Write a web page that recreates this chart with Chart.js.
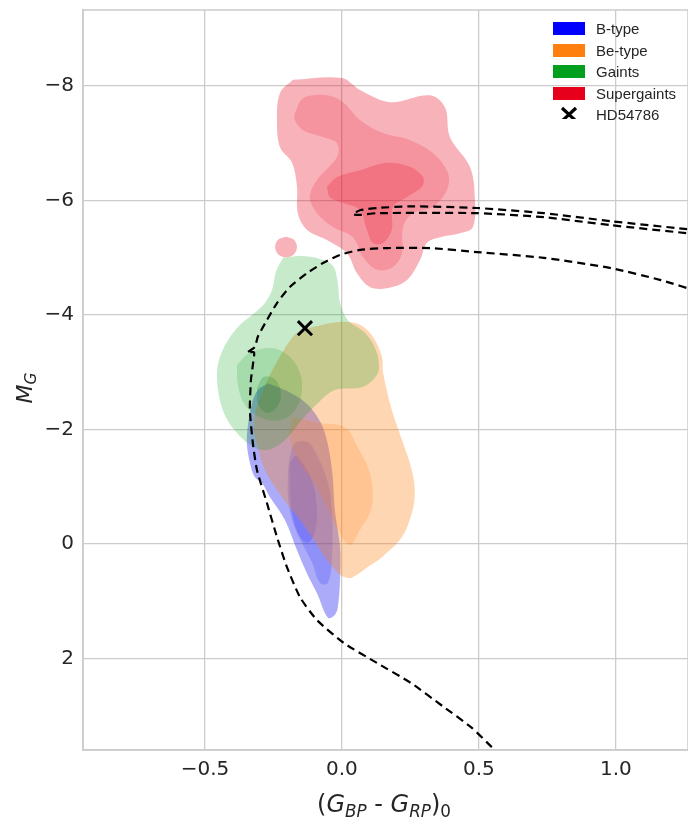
<!DOCTYPE html>
<html>
<head>
<meta charset="utf-8">
<script src="https://cdn.jsdelivr.net/npm/chart.js@4.4.1/dist/chart.umd.min.js"></script>
<style>
  body { margin: 0; background: #fff; }
  #wrap { position: relative; width: 688px; height: 819px; overflow: hidden; }
  .ttl { position: absolute; font-family: "DejaVu Sans", sans-serif; color: #262626; white-space: nowrap; }
  .ttl i { font-style: oblique; }
  .ttl .sb { font-size: 70%; position: relative; top: 0.28em; }
  #legend { position: absolute; left: 553px; top: 22px; width: 135px; font-family: "Liberation Sans", Arial, sans-serif; font-size: 15px; color: #262626; }
  #legend .row { position: relative; height: 21.6px; }
  #legend .sw { position: absolute; left: 0; top: 0; width: 32px; height: 13px; }
  #legend .lb { position: absolute; left: 43px; top: -2px; line-height: 17px; white-space: nowrap; }
</style>
</head>
<body>
<div id="wrap">
  <canvas id="cmd" width="688" height="819"></canvas>
  <div class="ttl" style="left:40px; top:792px; width:688px; text-align:center; font-size:24px; line-height:24px;">(<i>G</i><span class="sb"><i>BP</i></span> - <i>G</i><span class="sb"><i>RP</i></span>)<span class="sb">0</span></div>
  <div class="ttl" style="left:-5px; top:373px; width:60px; height:30px; line-height:30px; text-align:center; font-size:22px; transform:rotate(-90deg);"><i>M</i><span class="sb"><i>G</i></span></div>
  <div id="legend"></div>
</div>
<script>
// ---- data (colour index, absolute magnitude) ----
const xTicks = [-0.5, 0.0, 0.5, 1.0];
const yTicks = [-8, -6, -4, -2, 0, 2];
const legendLabels = ['B-type', 'Be-type', 'Gaints', 'Supergaints', 'HD54786'];

// KDE contour levels, B-type
const bOuter = [[-0.270,-2.81],[-0.208,-2.69],[-0.146,-2.52],[-0.099,-2.29],[-0.062,-1.94],[-0.036,-1.29],[-0.026,-0.59],[-0.007,0.05],[-0.007,0.63],[-0.015,1.10],[-0.026,1.24],[-0.051,1.29],[-0.091,0.86],[-0.128,0.51],[-0.164,0.11],[-0.208,-0.42],[-0.263,-0.82],[-0.292,-1.07],[-0.318,-1.17],[-0.336,-1.42],[-0.347,-1.76],[-0.343,-2.08],[-0.328,-2.46],[-0.307,-2.69]];
const bMid = [[-0.197,-1.29],[-0.190,-1.52],[-0.172,-1.76],[-0.124,-1.78],[-0.088,-1.52],[-0.051,-1.07],[-0.036,-0.54],[-0.036,0.23],[-0.051,0.68],[-0.080,0.68],[-0.109,0.33],[-0.146,-0.02],[-0.179,-0.37],[-0.197,-0.82]];
const bInner = [[-0.190,-1.42],[-0.168,-1.54],[-0.135,-1.36],[-0.106,-1.07],[-0.091,-0.59],[-0.099,-0.19],[-0.124,-0.02],[-0.153,-0.12],[-0.179,-0.47],[-0.190,-0.94]];

// Be-type
const beOuter = [[-0.201,-3.48],[-0.164,-3.69],[-0.106,-3.79],[-0.007,-3.88],[0.066,-3.83],[0.113,-3.62],[0.146,-3.27],[0.150,-3.00],[0.182,-2.34],[0.219,-1.82],[0.255,-1.29],[0.266,-0.89],[0.255,-0.54],[0.219,-0.12],[0.146,0.23],[0.095,0.40],[0.036,0.59],[0.011,0.58],[-0.007,0.54],[-0.062,0.23],[-0.102,-0.07],[-0.153,-0.42],[-0.219,-0.82],[-0.281,-1.29],[-0.307,-1.69],[-0.321,-1.99],[-0.314,-2.34],[-0.277,-2.81],[-0.234,-3.21]];
const beMid = [[-0.182,-2.22],[-0.073,-2.11],[0.011,-2.04],[0.058,-1.69],[0.102,-1.24],[0.113,-0.82],[0.102,-0.54],[0.066,-0.25],[0.029,0.02],[-0.015,-0.25],[-0.062,-0.72],[-0.109,-1.12],[-0.161,-1.47],[-0.190,-1.87]];

// Giants
const gOuter = [[-0.215,-5.00],[-0.153,-5.03],[-0.080,-4.98],[-0.033,-4.86],[-0.015,-4.56],[-0.007,-4.21],[0.022,-3.91],[0.084,-3.69],[0.124,-3.39],[0.135,-3.07],[0.120,-2.90],[0.073,-2.74],[-0.026,-2.69],[-0.088,-2.46],[-0.146,-2.17],[-0.197,-1.87],[-0.245,-1.69],[-0.292,-1.64],[-0.343,-1.76],[-0.387,-1.96],[-0.427,-2.25],[-0.449,-2.60],[-0.456,-2.99],[-0.445,-3.27],[-0.416,-3.56],[-0.372,-3.83],[-0.318,-4.04],[-0.281,-4.21],[-0.255,-4.44],[-0.241,-4.75]];
const gMid = [[-0.383,-3.13],[-0.336,-3.34],[-0.252,-3.42],[-0.190,-3.27],[-0.153,-2.99],[-0.146,-2.69],[-0.164,-2.39],[-0.219,-2.17],[-0.292,-2.20],[-0.354,-2.43],[-0.380,-2.78]];
const gInner = [[-0.310,-2.73],[-0.285,-2.92],[-0.245,-2.88],[-0.223,-2.66],[-0.234,-2.41],[-0.274,-2.29],[-0.307,-2.45]];

// Supergiants
const sgOuter = [[-0.179,-8.11],[0.000,-8.14],[0.066,-7.93],[0.175,-7.72],[0.321,-7.84],[0.376,-7.63],[0.394,-7.11],[0.467,-6.59],[0.485,-6.06],[0.478,-5.54],[0.431,-5.43],[0.358,-5.36],[0.310,-5.26],[0.285,-4.96],[0.237,-4.61],[0.164,-4.47],[0.102,-4.49],[0.055,-4.73],[0.018,-5.08],[-0.055,-5.31],[-0.128,-5.49],[-0.161,-5.78],[-0.164,-6.24],[-0.182,-6.66],[-0.226,-6.93],[-0.237,-7.41],[-0.226,-7.88]];
const sgMid = [[-0.172,-7.53],[-0.142,-7.79],[-0.055,-7.84],[0.004,-7.72],[0.066,-7.41],[0.150,-7.18],[0.248,-7.06],[0.332,-6.83],[0.387,-6.48],[0.383,-6.18],[0.332,-5.89],[0.259,-5.78],[0.223,-5.54],[0.219,-5.08],[0.186,-4.84],[0.128,-4.79],[0.077,-5.01],[0.040,-5.36],[-0.033,-5.54],[-0.091,-5.78],[-0.117,-6.06],[-0.091,-6.36],[-0.018,-6.76],[-0.018,-7.00],[-0.069,-7.11],[-0.142,-7.23],[-0.172,-7.41]];
const sgInner = [[-0.055,-6.24],[-0.018,-6.41],[0.066,-6.53],[0.164,-6.66],[0.248,-6.59],[0.296,-6.41],[0.292,-6.24],[0.237,-6.06],[0.186,-5.89],[0.182,-5.49],[0.150,-5.26],[0.113,-5.26],[0.091,-5.49],[0.066,-5.83],[0.004,-5.96],[-0.044,-6.06]];
const sgBlob = [[-0.204,-5.37],[-0.176,-5.32],[-0.164,-5.19],[-0.176,-5.06],[-0.204,-5.01],[-0.232,-5.06],[-0.244,-5.19],[-0.232,-5.32]];

// evolutionary tracks / isochrones
const iso1 = [[0.547,3.55],[0.471,3.20],[0.372,2.85],[0.252,2.43],[0.128,2.08],[0.007,1.73],[-0.091,1.33],[-0.153,0.93],[-0.201,0.40],[-0.237,-0.12],[-0.274,-0.72],[-0.310,-1.29],[-0.325,-1.76],[-0.336,-2.34],[-0.332,-2.87],[-0.325,-3.13],[-0.321,-3.35],[-0.347,-3.34],[-0.318,-3.44],[-0.307,-3.62],[-0.274,-3.91],[-0.237,-4.21],[-0.190,-4.49],[-0.128,-4.73],[-0.069,-4.91],[-0.007,-5.05],[0.066,-5.14],[0.164,-5.17],[0.321,-5.17],[0.493,-5.10],[0.737,-5.00],[0.982,-4.82],[1.164,-4.61],[1.307,-4.40]];
const iso2 = [[1.307,-5.47],[1.259,-5.50],[0.982,-5.64],[0.737,-5.78],[0.493,-5.87],[0.252,-5.90],[0.128,-5.87],[0.066,-5.83],[0.040,-5.76],[0.066,-5.75],[0.128,-5.78],[0.493,-5.78],[0.737,-5.71],[0.982,-5.57],[1.259,-5.43],[1.307,-5.40]];

// target star
const starX = [-0.135];
const starY = [-3.77];

const legendColors = ['#0000ff', '#ff7f0e', '#00a01e', '#e6001c'];

// ---- helpers ----
const pts = arr => arr.concat([arr[0]]).map(p => ({x: p[0], y: p[1]}));
const fmt = (v, d) => (v < 0 ? '\u2212' : '') + Math.abs(v).toFixed(d);

function contour(data, color, order) {
    return {
        data: pts(data), showLine: true, fill: 'shape', tension: 0.35,
        backgroundColor: color, borderWidth: 0, borderColor: 'rgba(0,0,0,0)',
        pointRadius: 0, order: order
    };
}
function track(data) {
    return {
        data: data.map(p => ({x: p[0], y: p[1]})), showLine: true, fill: false, tension: 0.2,
        borderColor: '#000', borderWidth: 2.2, borderDash: [8, 5], pointRadius: 0, order: 1
    };
}

const datasets = [
    contour(bOuter, 'rgba(0,0,240,0.33)', 43),
    contour(bMid, 'rgba(0,0,240,0.16)', 42),
    contour(bInner, 'rgba(0,0,240,0.15)', 41),
    contour(beOuter, 'rgba(255,127,14,0.32)', 33),
    contour(beMid, 'rgba(255,127,14,0.2)', 32),
    contour(gOuter, 'rgba(0,160,20,0.22)', 23),
    contour(gMid, 'rgba(0,140,20,0.17)', 22),
    contour(gInner, 'rgba(0,120,20,0.2)', 21),
    contour(sgOuter, 'rgba(232,0,28,0.3)', 13),
    contour(sgBlob, 'rgba(232,0,28,0.3)', 13),
    contour(sgMid, 'rgba(232,0,28,0.17)', 12),
    contour(sgInner, 'rgba(232,0,28,0.22)', 11),
    track(iso1),
    track(iso2),
    {
        data: starX.map((x, i) => ({x: x, y: starY[i]})),
        pointStyle: 'crossRot', pointRadius: 10, borderWidth: 3,
        borderColor: '#000', backgroundColor: '#000', order: 0
    }
];

// frame around the plotting area
const frame = {
    id: 'frame',
    beforeDatasetsDraw(chart) {
        const {ctx, chartArea: a} = chart;
        ctx.save();
        ctx.strokeStyle = '#cccccc';
        ctx.lineWidth = 1.5;
        ctx.strokeRect(a.left, a.top, a.right - a.left, a.bottom - a.top);
        ctx.restore();
    }
};

function noPad(s) {
    s.paddingTop = 0; s.paddingBottom = 0; s.paddingLeft = 0; s.paddingRight = 0;
}

const tickFont = {family: 'DejaVu Sans', size: 20};

new Chart(document.getElementById('cmd'), {
    type: 'scatter',
    data: {datasets: datasets},
    plugins: [frame],
    options: {
        responsive: false,
        animation: false,
        devicePixelRatio: 1,
        layout: {autoPadding: false, padding: {top: 10, right: 0, left: 0, bottom: 0}},
        plugins: {legend: {display: false}, tooltip: {enabled: false}},
        scales: {
            x: {
                type: 'linear', min: -0.945, max: 1.263,
                afterBuildTicks: s => { s.ticks = xTicks.map(v => ({value: v})); },
                afterFit: s => { s.height = 69; noPad(s); },
                ticks: {font: tickFont, color: '#262626', padding: 8, callback: v => fmt(v, 1)},
                grid: {color: '#cccccc', lineWidth: 1.3, drawTicks: false},
                border: {display: true, color: '#cccccc', width: 1.5}
            },
            y: {
                type: 'linear', reverse: true, min: -9.33, max: 3.6,
                afterBuildTicks: s => { s.ticks = yTicks.map(v => ({value: v})); },
                afterFit: s => { s.width = 83; noPad(s); },
                ticks: {font: tickFont, color: '#262626', padding: 9, callback: v => fmt(v, 0)},
                grid: {color: '#cccccc', lineWidth: 1.3, drawTicks: false},
                border: {display: true, color: '#cccccc', width: 1.5}
            }
        }
    }
});

// legend
const leg = document.getElementById('legend');
legendLabels.forEach((name, i) => {
    const row = document.createElement('div');
    row.className = 'row';
    const sw = i < legendColors.length
        ? `<div class="sw" style="background:${legendColors[i]}"></div>`
        : `<svg class="sw" width="32" height="16" style="top:-2px"><path d="M9 2 L23 15 M23 2 L9 15" stroke="#000" stroke-width="3.2"/></svg>`;
    row.innerHTML = sw + `<div class="lb">${name}</div>`;
    leg.appendChild(row);
});
</script>
</body>
</html>
